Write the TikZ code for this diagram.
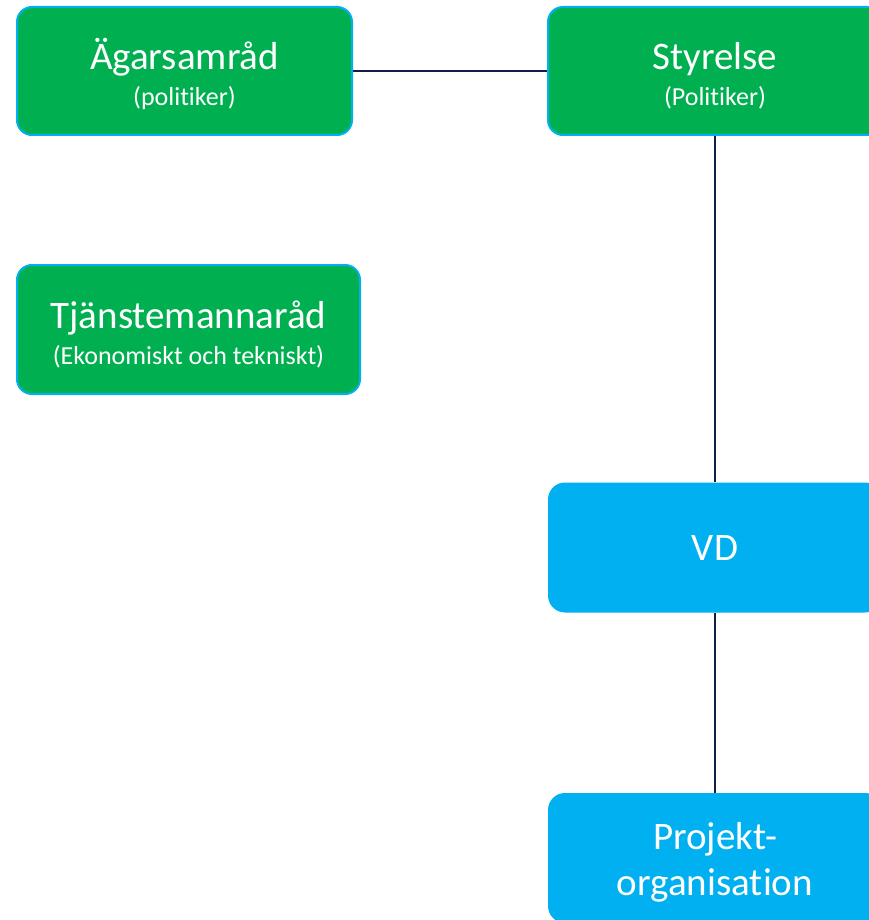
\documentclass[tikz,border=0pt]{standalone}
\usepackage{fontspec}
\setmainfont{Carlito}[Ligatures=NoCommon]
\definecolor{boardgreen}{HTML}{00B050}
\definecolor{boardblue}{HTML}{00B0F0}
\definecolor{linknavy}{HTML}{101E4A}
\newcommand{\boxsub}{\fontsize{26}{36}\selectfont}
\newcommand{\topstrut}{\rule{0pt}{37pt}}
\tikzset{
  greenbox/.style={fill=boardgreen,draw=boardblue,line width=2pt,rounded corners=15pt,
    minimum width=335pt,minimum height=128pt,text=white,align=center,inner sep=0pt,
    font=\fontsize{39}{36}\selectfont},
  bluebox/.style={fill=boardblue,rounded corners=17pt,
    minimum width=334pt,minimum height=130pt,text=white,align=center,inner sep=0pt,
    font=\fontsize{39}{46}\selectfont},
  link/.style={linknavy,line width=2.5pt}
}
\begin{document}
\begin{tikzpicture}[x=1pt,y=-1pt]

\useasboundingbox (0,0) rectangle (869,920);
\clip (0,0) rectangle (869,920);

\fill [white] (0,0) rectangle (869,920);

% green boxes (politicians and officials)
\node [greenbox] (agar) at (184.5,71) {\topstrut Ägarsamråd\\\boxsub (politiker)};
\node [greenbox,minimum width=334pt] (styr) at (715,71) {\topstrut Styrelse\\\boxsub (Politiker)};
\node [greenbox,minimum width=343pt,minimum height=129pt] (tjan) at (188.5,329.5) {\topstrut Tjänstemannaråd\\\boxsub (Ekonomiskt och tekniskt)};

% blue boxes (organisation)
\node [bluebox] (vd) at (715,547.5) {VD};
\node [bluebox] (proj) at (715,858) {\rule{0pt}{35pt}Projekt-\\organisation};

\draw [link] (agar) -- (styr);
\draw [link] (styr) -- (vd);
\draw [link] (vd) -- (proj);

\end{tikzpicture}
\end{document}
